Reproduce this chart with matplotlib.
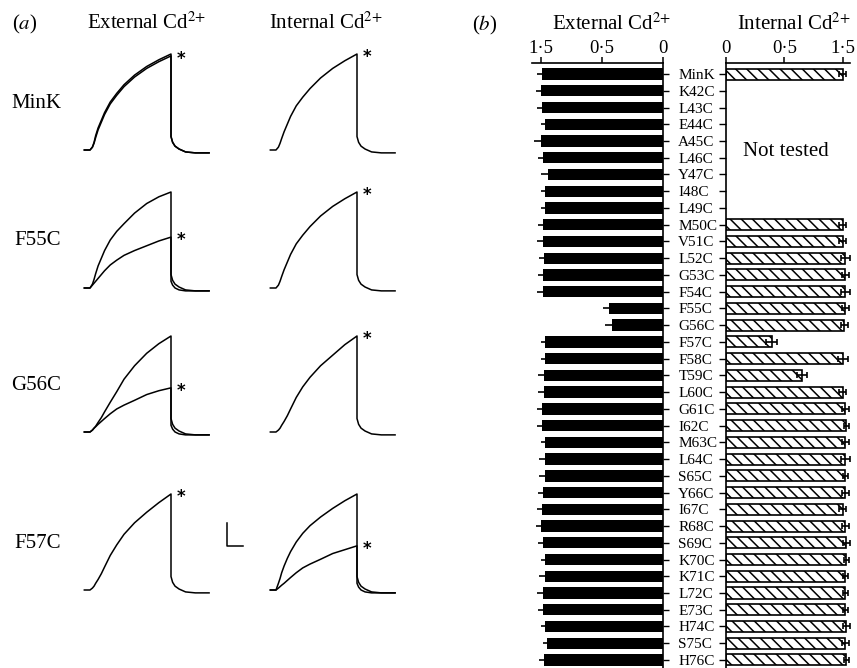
import matplotlib.pyplot as plt

plt.rcParams['font.family'] = ['Liberation Serif', 'DejaVu Serif']
plt.rcParams['mathtext.fontset'] = 'stix'
plt.rcParams['hatch.linewidth'] = 1.1

# размер картинки в пикселях
W, H = 857, 668

# --- (a) токи: время относительно импульса (0..1), ток относительно контроля
t_rise = [-0.07, 0.0, 0.03, 0.05, 0.07, 0.1, 0.14, 0.18, 0.25, 0.33, 0.42, 0.55, 0.7, 0.85, 1.0]
t_tail = [1.0, 1.02, 1.05, 1.1, 1.18, 1.3, 1.47]

tail_ctrl = [0.14, 0.08, 0.04, 0.01, -0.02, -0.03, -0.03]
tail_cd = [0.07, 0.03, 0.0, -0.02, -0.03, -0.03, -0.03]

mink_ext_ctrl = [0, 0, 0.03, 0.08, 0.15, 0.23, 0.31, 0.39, 0.50, 0.59, 0.68, 0.78, 0.87, 0.94, 1.0]
mink_ext_cd = [0, 0, 0.03, 0.07, 0.13, 0.21, 0.29, 0.37, 0.48, 0.57, 0.66, 0.76, 0.85, 0.92, 0.98]
mink_int = [0, 0, 0.03, 0.07, 0.12, 0.19, 0.27, 0.35, 0.46, 0.55, 0.64, 0.75, 0.85, 0.93, 1.0]

f55c_ext_ctrl = [0, 0, 0.04, 0.09, 0.15, 0.23, 0.31, 0.39, 0.50, 0.59, 0.67, 0.78, 0.88, 0.95, 1.0]
f55c_ext_cd = [0, 0, 0.03, 0.05, 0.07, 0.10, 0.14, 0.18, 0.24, 0.29, 0.34, 0.39, 0.44, 0.49, 0.53]
f55c_int = [0, 0, 0.03, 0.07, 0.12, 0.19, 0.27, 0.35, 0.46, 0.55, 0.64, 0.75, 0.85, 0.93, 1.0]

g56c_ext_ctrl = [0, 0, 0.02, 0.04, 0.06, 0.10, 0.15, 0.21, 0.31, 0.42, 0.55, 0.69, 0.82, 0.92, 1.0]
g56c_ext_cd = [0, 0, 0.02, 0.04, 0.055, 0.08, 0.11, 0.14, 0.19, 0.24, 0.28, 0.33, 0.39, 0.43, 0.46]
g56c_int = [0, 0, 0.02, 0.04, 0.07, 0.11, 0.17, 0.24, 0.36, 0.47, 0.57, 0.69, 0.80, 0.91, 1.0]

f57c_ext = [0, 0, 0.02, 0.04, 0.07, 0.11, 0.17, 0.24, 0.36, 0.47, 0.58, 0.70, 0.81, 0.91, 1.0]
f57c_int_ctrl = [0, 0, 0.07, 0.12, 0.18, 0.25, 0.33, 0.40, 0.50, 0.59, 0.67, 0.76, 0.85, 0.93, 1.0]
f57c_int_cd = [0, 0, 0.02, 0.035, 0.05, 0.07, 0.1, 0.13, 0.18, 0.23, 0.27, 0.32, 0.38, 0.42, 0.46]

row_names = ['MinK', 'F55C', 'G56C', 'F57C']

# --- (b) доля тока, оставшаяся после Cd2+
mutants = ['MinK', 'K42C', 'L43C', 'E44C', 'A45C', 'L46C', 'Y47C', 'I48C', 'L49C',
           'M50C', 'V51C', 'L52C', 'G53C', 'F54C', 'F55C', 'G56C', 'F57C', 'F58C',
           'T59C', 'L60C', 'G61C', 'I62C', 'M63C', 'L64C', 'S65C', 'Y66C', 'I67C',
           'R68C', 'S69C', 'K70C', 'K71C', 'L72C', 'E73C', 'H74C', 'S75C', 'H76C']
ext_block = [0.99, 1.0, 0.99, 0.96, 1.0, 0.98, 0.94, 0.96, 0.96,
             0.98, 0.98, 0.97, 0.98, 0.98, 0.44, 0.42, 0.96, 0.96,
             0.97, 0.97, 0.99, 0.99, 0.96, 0.96, 0.96, 0.98, 0.99,
             1.0, 0.98, 0.96, 0.96, 0.98, 0.98, 0.96, 0.95, 0.97]
ext_err = [0.04, 0.04, 0.04, 0.04, 0.05, 0.04, 0.06, 0.04, 0.04,
           0.04, 0.05, 0.04, 0.04, 0.05, 0.05, 0.05, 0.04, 0.04,
           0.05, 0.05, 0.04, 0.04, 0.04, 0.05, 0.05, 0.04, 0.04,
           0.04, 0.04, 0.04, 0.05, 0.05, 0.04, 0.04, 0.03, 0.04]
int_block = [1.0, None, None, None, None, None, None, None, None,
             1.0, 1.0, 1.02, 1.02, 1.02, 1.02, 1.01, 0.39, 1.0,
             0.65, 1.0, 1.02, 1.03, 1.02, 1.02, 1.02, 1.02, 1.0,
             1.02, 1.03, 1.03, 1.02, 1.02, 1.02, 1.03, 1.02, 1.03]
int_err = [0.03, None, None, None, None, None, None, None, None,
           0.03, 0.03, 0.04, 0.03, 0.04, 0.03, 0.03, 0.05, 0.04,
           0.04, 0.03, 0.03, 0.02, 0.03, 0.04, 0.02, 0.03, 0.03,
           0.03, 0.03, 0.02, 0.02, 0.02, 0.02, 0.03, 0.03, 0.02]

# масштабная метка (в единицах ячейки F57C)
SCALE_T, SCALE_I = 0.2, 0.24


def px_axes(fig, x0, y0, x1, y1):
    # оси по пиксельной рамке (начало координат сверху слева)
    return fig.add_axes([x0 / W, 1 - y1 / H, (x1 - x0) / W, (y1 - y0) / H])


def draw_cell(fig, x_step, y_base, traces, star_y):
    sx, sy = 81, 96  # пикселей на единицу времени / тока
    ax = px_axes(fig, x_step - 0.1 * sx, y_base - 1.1 * sy,
                 x_step + 1.5 * sx, y_base + 0.1 * sy)
    ax.set_xlim(-0.1, 1.5)
    ax.set_ylim(-0.1, 1.1)
    for rise, tail in traces:
        ax.plot(t_rise + t_tail, rise + tail, color='black', lw=1.1)
    ax.text(1.07, star_y - 0.03, '*', fontsize=12, fontweight='bold', family='DejaVu Sans',
            ha='left', va='center')
    ax.axis('off')
    return ax


def draw_traces(fig):
    rows = [
        (150, [(mink_ext_ctrl, tail_ctrl), (mink_ext_cd, tail_ctrl)], mink_ext_cd[-1],
         [(mink_int, tail_ctrl)], mink_int[-1]),
        (288, [(f55c_ext_ctrl, tail_ctrl), (f55c_ext_cd, tail_cd)], f55c_ext_cd[-1],
         [(f55c_int, tail_ctrl)], f55c_int[-1]),
        (432, [(g56c_ext_ctrl, tail_ctrl), (g56c_ext_cd, tail_cd)], g56c_ext_cd[-1],
         [(g56c_int, tail_ctrl)], g56c_int[-1]),
        (590, [(f57c_ext, tail_ctrl)], f57c_ext[-1],
         [(f57c_int_ctrl, tail_ctrl), (f57c_int_cd, tail_cd)], f57c_int_cd[-1]),
    ]
    for name, (y_base, ext, ext_star, inn, int_star) in zip(row_names, rows):
        ax = draw_cell(fig, 90, y_base, ext, ext_star)
        draw_cell(fig, 276, y_base, inn, int_star)
        fig.text(61 / W, 1 - (y_base - 47) / H, name, fontsize=15, ha='right', va='center')
    # масштабная метка возле F57C
    ax.plot([1.69, 1.69, 1.69 + SCALE_T], [0.46 + SCALE_I, 0.46, 0.46],
            color='black', lw=1.1, clip_on=False)

    fig.text(12 / W, 1 - 29 / H, '($\\mathit{a}$)', fontsize=15, va='baseline')
    fig.text(87 / W, 1 - 29 / H, 'External Cd$^{2{+}}$', fontsize=15, va='baseline')
    fig.text(269 / W, 1 - 29 / H, 'Internal Cd$^{2{+}}$', fontsize=15, va='baseline')


def draw_bars(fig):
    y = list(range(len(mutants)))
    ylim = (35.48, -0.66)

    # наружный Cd2+: чёрные полосы влево
    ax = px_axes(fig, 532, 63, 663, 668)
    ax.barh(y, ext_block, height=0.68, color='black', xerr=ext_err,
            error_kw=dict(ecolor='black', elinewidth=1.2, capsize=0))
    ax.set_xlim(1.07, 0)
    ax.set_ylim(*ylim)
    ax.spines['left'].set_visible(False)
    ax.spines['bottom'].set_visible(False)
    for s in ('top', 'right'):
        ax.spines[s].set_linewidth(1.2)
    ax.xaxis.tick_top()
    ax.set_xticks([1.0, 0.5, 0], ['1·5', '0·5', '0'])
    ax.tick_params(axis='x', length=4, width=1.1, pad=0, labelsize=13.5)
    ax.yaxis.tick_right()
    ax.set_yticks(y, mutants)
    ax.tick_params(axis='y', length=4, width=1, pad=7, labelsize=11)

    # внутренний Cd2+: заштрихованные полосы вправо
    ax2 = px_axes(fig, 726, 63, 850, 668)
    yt = [i for i in y if int_block[i] is not None]
    ax2.barh(yt, [int_block[i] for i in yt], height=0.66, color='white',
             edgecolor='black', linewidth=1.2, hatch='\\\\\\',
             xerr=[int_err[i] for i in yt],
             error_kw=dict(ecolor='black', elinewidth=1.2, capsize=2.5, capthick=1.2))
    ax2.set_xlim(0, 1.06)
    ax2.set_ylim(*ylim)
    ax2.spines['right'].set_visible(False)
    ax2.spines['bottom'].set_visible(False)
    for s in ('top', 'left'):
        ax2.spines[s].set_linewidth(1.2)
    ax2.xaxis.tick_top()
    ax2.set_xticks([0, 0.5, 1.0], ['0', '0·5', '1·5'])
    ax2.tick_params(axis='x', length=4, width=1.1, pad=0, labelsize=13.5)
    ax2.set_yticks(y, [''] * len(y))
    ax2.tick_params(axis='y', length=5, width=1)
    ax2.text(0.51, 4.6, 'Not tested', fontsize=15, ha='center', va='center')

    fig.text(472 / W, 1 - 30 / H, '($\\mathit{b}$)', fontsize=15, va='baseline')
    fig.text(552 / W, 1 - 30 / H, 'External Cd$^{2{+}}$', fontsize=15, va='baseline')
    fig.text(737 / W, 1 - 30 / H, 'Internal Cd$^{2{+}}$', fontsize=15, va='baseline')


def main():
    fig = plt.figure(figsize=(W / 100, H / 100), dpi=100)
    draw_traces(fig)
    draw_bars(fig)
    fig.savefig('out.png', dpi=100)


if __name__ == '__main__':
    main()
